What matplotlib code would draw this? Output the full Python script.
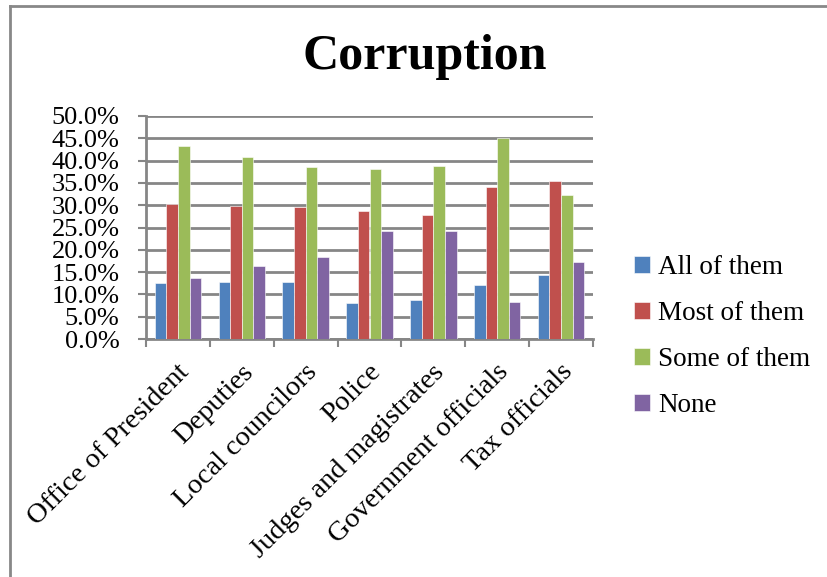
import numpy as np
import matplotlib
matplotlib.use("Agg")
import matplotlib.pyplot as plt
from matplotlib.lines import Line2D
import matplotlib.ticker as ticker

# Share of respondents saying how many officials in each group are corrupt
categories = ['Office of President', 'Deputies', 'Local councilors', 'Police',
              'Judges and magistrates', 'Government officials', 'Tax officials']
all_of_them = [12.5, 12.8, 12.8, 8.1, 8.8, 12.0, 14.4]
most_of_them = [30.2, 29.8, 29.6, 28.6, 27.9, 34.0, 35.4]
some_of_them = [43.3, 40.7, 38.5, 38.1, 38.7, 45.1, 32.2]
none = [13.7, 16.3, 18.4, 24.3, 24.2, 8.3, 17.3]

series = [('All of them', all_of_them, '#4F81BD'),
          ('Most of them', most_of_them, '#C0504D'),
          ('Some of them', some_of_them, '#9BBB59'),
          ('None', none, '#8064A2')]

plt.rcParams['font.family'] = ['Liberation Serif', 'DejaVu Serif']

fig = plt.figure(figsize=(8.27, 5.77), dpi=100)
ax = fig.add_axes([146 / 827, 1 - 339 / 577, 447 / 827, 223 / 577])

x = np.arange(len(categories))
w = 1 / 5.5
for i, (label, vals, color) in enumerate(series):
    ax.bar(x + (i - 1.5) * w, vals, width=w, color=color, label=label,
           edgecolor='white', linewidth=0.4, zorder=3)

ax.set_xlim(-0.5, len(categories) - 0.5)
ax.set_ylim(0, 50)
ax.yaxis.set_major_locator(ticker.MultipleLocator(5))
ax.yaxis.set_major_formatter(ticker.FuncFormatter(lambda v, p: f'{v:.1f}%'))
ax.grid(axis='y', color='#868686', linewidth=2, zorder=0)

ax.set_xticks(np.arange(len(categories) + 1) - 0.5)
ax.set_xticklabels([])
ax.tick_params(axis='x', length=6, width=1.5, color='#868686', direction='out')
ax.tick_params(axis='y', length=6, width=1.5, color='#868686', direction='out',
               labelsize=19, pad=13)
for s in ['top', 'right']:
    ax.spines[s].set_visible(False)
for s in ['left', 'bottom']:
    ax.spines[s].set_color('#868686')
    ax.spines[s].set_linewidth(2)

# rotated category names under each group
for xi, name in zip(x, categories):
    ax.text(xi - 0.02, -4.6, name, rotation=45, ha='right', va='top',
            rotation_mode='anchor', fontsize=20.5)

fig.text(425 / 827, 1 - 57 / 577, 'Corruption', ha='center', va='center',
         fontsize=36, fontweight='bold')

ax.legend(loc='upper left', bbox_to_anchor=(623 / 827, 1 - 244 / 577),
          bbox_transform=fig.transFigure, frameon=False, fontsize=19.5,
          handlelength=0.6, handleheight=0.6, handletextpad=0.3,
          labelspacing=0.78, borderaxespad=0)

# chart frame (left and top edges only are in view)
fig.add_artist(Line2D([9.5 / 827, 9.5 / 827], [0, 1 - 6 / 577],
                      transform=fig.transFigure, color='#888888', linewidth=2))
fig.add_artist(Line2D([9.5 / 827, 1], [1 - 6 / 577, 1 - 6 / 577],
                      transform=fig.transFigure, color='#888888', linewidth=2))

fig.savefig('out.png', dpi=100)
